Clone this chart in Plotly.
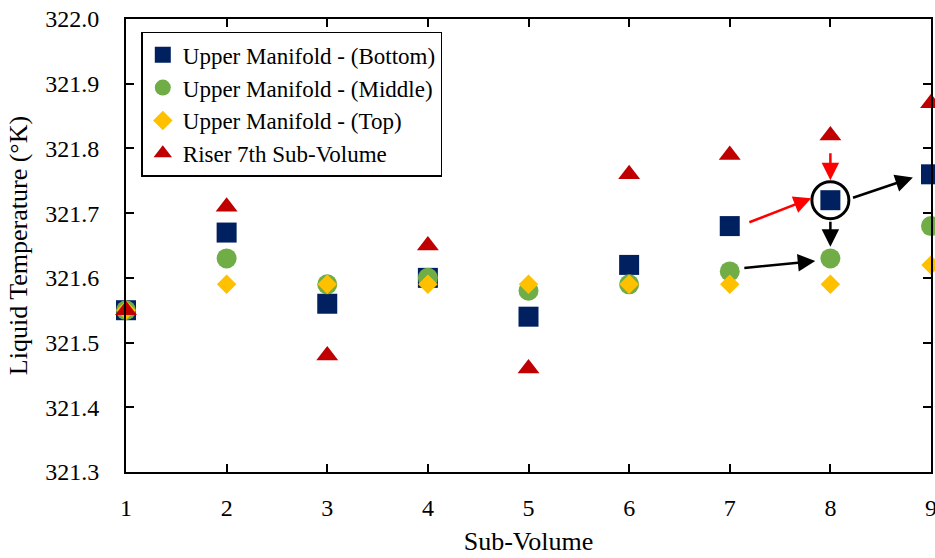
import plotly.graph_objects as go

# Sub-volume index along the upper manifold
sub_volume = [1, 2, 3, 4, 5, 6, 7, 8, 9]

# Liquid temperature (K) per sub-volume
manifold_bottom = [321.55, 321.67, 321.56, 321.60, 321.54, 321.62, 321.68, 321.72, 321.76]
manifold_middle = [321.55, 321.63, 321.59, 321.60, 321.58, 321.59, 321.61, 321.63, 321.68]
manifold_top = [321.55, 321.59, 321.59, 321.59, 321.59, 321.59, 321.59, 321.59, 321.62]
riser_7th = [321.55, 321.71, 321.48, 321.65, 321.46, 321.76, 321.79, 321.82, 321.87]

y_ticks = [321.3, 321.4, 321.5, 321.6, 321.7, 321.8, 321.9, 322.0]

FONT = "Liberation Serif, Times New Roman, serif"

series = [
    ("Upper Manifold - (Bottom)", manifold_bottom, "square", 20, "#002060"),
    ("Upper Manifold - (Middle)", manifold_middle, "circle", 20, "#70AD47"),
    ("Upper Manifold - (Top)", manifold_top, "diamond", 15, "#FFC000"),
    ("Riser 7th Sub-Volume", riser_7th, "triangle-up", 19, "#C00000"),
]

fig = go.Figure()
for name, vals, sym, size, color in series:
    fig.add_trace(go.Scatter(
        x=sub_volume, y=vals, name=name, mode="markers",
        marker=dict(symbol=sym, size=size, color=color, line=dict(width=0)),
        cliponaxis=False,
    ))

# Highlight ring around the bottom-layer point at sub-volume 8
fig.add_shape(
    type="circle", xref="x", yref="y",
    xsizemode="pixel", ysizemode="pixel",
    xanchor=8, yanchor=manifold_bottom[7],
    x0=-18.5, x1=18.5, y0=-18.5, y1=18.5,
    line=dict(color="black", width=3),
)

# Flow arrows: (tail x, tail y, head x, head y, colour)
arrows = [
    (7.18, 321.685, 7.81, 321.723, "#FF0000"),
    (8.0, 321.795, 8.0, 321.751, "#FF0000"),
    (8.0, 321.689, 8.0, 321.648, "black"),
    (8.21, 321.723, 8.82, 321.755, "black"),
    (7.13, 321.615, 7.85, 321.626, "black"),
]
for x0, y0, x1, y1, col in arrows:
    fig.add_annotation(
        x=x1, y=y1, ax=x0, ay=y0, xref="x", yref="y", axref="x", ayref="y",
        text="", showarrow=True, arrowhead=2, arrowsize=1.4, arrowwidth=2.5,
        arrowcolor=col, standoff=0, startstandoff=0,
    )

axis_common = dict(
    showline=True, linecolor="black", linewidth=2, mirror="ticks",
    ticks="inside", ticklen=8, tickwidth=1.5, tickcolor="black",
    showgrid=False, zeroline=False, automargin=False,
    ticklabeloverflow="allow",
    tickfont=dict(family=FONT, size=24, color="black"),
)

fig.update_xaxes(
    range=[1, 9], tickvals=sub_volume, ticklabelstandoff=13,
    title=dict(text="Sub-Volume", font=dict(family=FONT, size=26, color="black"), standoff=12),
    **axis_common,
)
fig.update_yaxes(
    range=[321.3, 322.0], tickvals=y_ticks, tickformat=".1f", ticklabelstandoff=20,
    title=dict(text="Liquid Temperature (°K)", font=dict(family=FONT, size=26, color="black"), standoff=10),
    **axis_common,
)

fig.update_layout(
    width=935, height=558, autosize=False,
    margin=dict(l=126, r=4, t=19, b=86),
    paper_bgcolor="white", plot_bgcolor="white",
    font=dict(family=FONT, color="black"),
    legend=dict(
        x=0.019, y=0.972, xanchor="left", yanchor="top",
        bgcolor="white", bordercolor="black", borderwidth=1.5,
        font=dict(family=FONT, size=23, color="black"),
        itemwidth=30, tracegroupgap=0,
    ),
    showlegend=True,
)

fig.write_html("out.html")
